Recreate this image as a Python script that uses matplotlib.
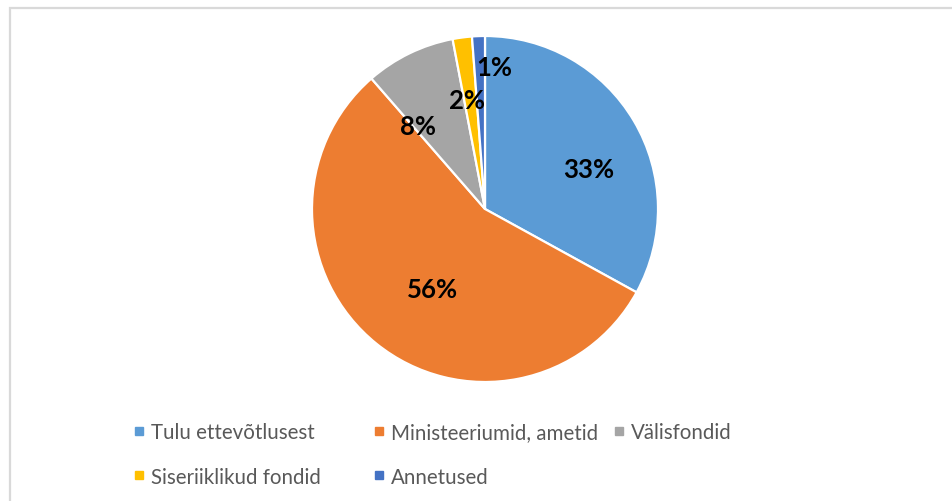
import matplotlib.pyplot as plt
from matplotlib.lines import Line2D
from matplotlib.patches import Rectangle
import numpy as np

# data
categories = ["Tulu ettevõtlusest", "Ministeeriumid, ametid", "Välisfondid",
              "Siseriiklikud fondid", "Annetused"]
shares = [33.0, 55.6, 8.4, 1.8, 1.2]
colors = ["#5B9BD5", "#ED7D31", "#A5A5A5", "#FFC000", "#4472C4"]

# label placement (fraction of radius, angle in degrees) to mimic Excel best fit
label_r = [0.64, 0.555, 0.62, 0.64, 0.82]
label_ang = [21.2, 236.5, 128.9, 99.3, 86.4]

plt.rcParams["font.family"] = ["Lato", "DejaVu Sans"]

W, H = 952, 502
fig = plt.figure(figsize=(W / 100, H / 100), dpi=100)

cx, cy, r = 485, 210, 173
ax = fig.add_axes([(cx - r) / W, (H - cy - r) / H, 2 * r / W, 2 * r / H])
wedges, _ = ax.pie(shares, colors=colors, startangle=90, counterclock=False,
                   radius=1.0,
                   wedgeprops=dict(edgecolor="white", linewidth=1.6))
ax.set_xlim(-1, 1)
ax.set_ylim(-1, 1)
ax.axis("off")

for val, fr, ang in zip(shares, label_r, label_ang):
    a = np.deg2rad(ang)
    ax.text(fr * np.cos(a), fr * np.sin(a), f"{val:.0f}%", ha="center",
            va="center", fontsize=18.5, fontweight="bold", color="black")

# chart area frame (only top/left visible in the crop)
fig.patches.append(Rectangle((9.5 / W, -0.1), 1.2, (H - 8.5) / H + 0.1,
                             transform=fig.transFigure, fill=False,
                             edgecolor="#D9D9D9", linewidth=1.6))

# legend, Excel style rows laid out as three columns
def handle(c):
    return Line2D([], [], marker="s", linestyle="none", markersize=5.5,
                  markerfacecolor=c, markeredgecolor=c)

cols = [[0, 3], [1, 4], [2]]
col_x = [133.5, 373.5, 613.5]
for idx, x in zip(cols, col_x):
    leg = fig.legend([handle(colors[i]) for i in idx],
                     [categories[i] for i in idx],
                     loc="upper left", bbox_to_anchor=(x / W, 1 - 423 / H),
                     frameon=False, fontsize=14.8, handlelength=0.5,
                     handletextpad=0.36, labelspacing=1.2,
                     borderaxespad=0, borderpad=0, labelcolor="#595959")

fig.savefig("out.png", dpi=100)
